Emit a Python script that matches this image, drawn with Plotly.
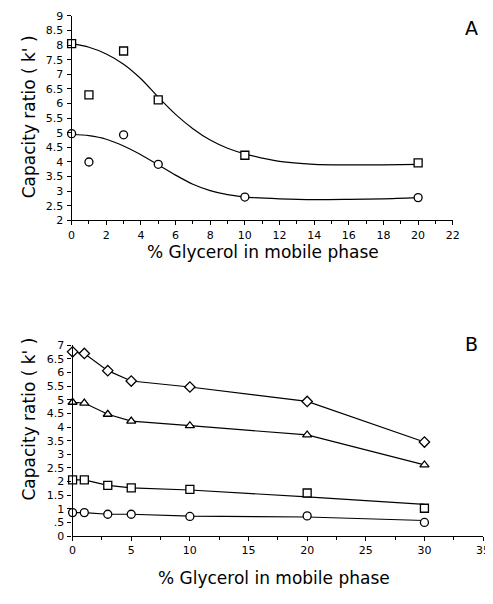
import plotly.graph_objects as go

# ---------- Panel A data ----------
a_x = [0, 1, 3, 5, 10, 20]
a_squares = [8.05, 6.3, 7.8, 6.13, 4.23, 3.97]
a_circles = [4.97, 4.0, 4.93, 3.92, 2.8, 2.78]
# fitted smooth curves
a_curve_x = [0, 1, 2, 3, 4, 5, 6, 7, 8, 9, 10, 12, 14, 16, 18, 20]
a_sq_curve = [8.05, 7.93, 7.7, 7.35, 6.85, 6.22, 5.63, 5.14, 4.75, 4.47, 4.28, 4.02, 3.92, 3.9, 3.9, 3.92]
a_ci_curve = [4.95, 4.9, 4.78, 4.55, 4.25, 3.9, 3.55, 3.24, 3.02, 2.88, 2.8, 2.74, 2.71, 2.72, 2.74, 2.78]
a_ytick_vals = [2, 2.5, 3, 3.5, 4, 4.5, 5, 5.5, 6, 6.5, 7, 7.5, 8, 8.5, 9]
a_ytick_text = ["2", "2.5", "3", "3.5", "4", "4.5", "5", "5.5", "6", "6.5", "7", "7.5", "8", "8.5", "9"]

# ---------- Panel B data ----------
b_x = [0, 1, 3, 5, 10, 20, 30]
b_diamonds = [6.76, 6.7, 6.07, 5.69, 5.47, 4.94, 3.45]
b_triangles = [4.91, 4.88, 4.47, 4.22, 4.05, 3.71, 2.61]
b_squares = [2.06, 2.06, 1.86, 1.77, 1.71, 1.58, 1.02]
b_circles = [0.86, 0.86, 0.8, 0.8, 0.72, 0.74, 0.5]
b_sq_line = [2.06, 2.06, 1.86, 1.77, 1.69, 1.44, 1.16]
b_ci_line = [0.86, 0.86, 0.8, 0.8, 0.73, 0.7, 0.57]
b_ytick_vals = [0, 0.5, 1, 1.5, 2, 2.5, 3, 3.5, 4, 4.5, 5, 5.5, 6, 6.5, 7]
b_ytick_text = ["0", ".5", "1", "1.5", "2", "2.5", "3", "3.5", "4", "4.5", "5", "5.5", "6", "6.5", "7"]

WIN_W, WIN_H = 493, 604
OFF = 8  # default page body margin
W, H = WIN_W - OFF, WIN_H - OFF
FONT = "DejaVu Sans"

fig = go.Figure()

line_style = dict(color="black", width=1.2)


def mk(symbol, size=8):
    return dict(symbol=symbol, size=size, color="white",
                line=dict(color="black", width=1.3))


# Panel A
fig.add_trace(go.Scatter(x=a_curve_x, y=a_sq_curve, mode="lines",
                         line=dict(shape="spline", smoothing=0.8, **line_style),
                         xaxis="x", yaxis="y", hoverinfo="skip"))
fig.add_trace(go.Scatter(x=a_curve_x, y=a_ci_curve, mode="lines",
                         line=dict(shape="spline", smoothing=0.8, **line_style),
                         xaxis="x", yaxis="y", hoverinfo="skip"))
fig.add_trace(go.Scatter(x=a_x, y=a_squares, mode="markers", marker=mk("square", 8),
                         xaxis="x", yaxis="y", cliponaxis=False))
fig.add_trace(go.Scatter(x=a_x, y=a_circles, mode="markers", marker=mk("circle", 8),
                         xaxis="x", yaxis="y", cliponaxis=False))

# Panel B
fig.add_trace(go.Scatter(x=b_x, y=b_diamonds, mode="lines+markers", line=line_style, marker=mk("diamond", 8),
                         xaxis="x2", yaxis="y2", cliponaxis=False))
fig.add_trace(go.Scatter(x=b_x, y=b_triangles, mode="lines+markers", line=line_style, marker=mk("triangle-up", 8),
                         xaxis="x2", yaxis="y2", cliponaxis=False))
fig.add_trace(go.Scatter(x=b_x, y=b_sq_line, mode="lines", line=line_style,
                         xaxis="x2", yaxis="y2", hoverinfo="skip"))
fig.add_trace(go.Scatter(x=b_x, y=b_ci_line, mode="lines", line=line_style,
                         xaxis="x2", yaxis="y2", hoverinfo="skip"))
fig.add_trace(go.Scatter(x=b_x, y=b_squares, mode="markers", marker=mk("square", 8),
                         xaxis="x2", yaxis="y2", cliponaxis=False))
fig.add_trace(go.Scatter(x=b_x, y=b_circles, mode="markers", marker=mk("circle", 8),
                         xaxis="x2", yaxis="y2", cliponaxis=False))


def px_x(p):
    return (p - OFF) / W


def px_y(p):
    return 1 - (p - OFF) / H


axis_common = dict(showline=True, linecolor="black", linewidth=1.2, ticks="outside", ticklen=4,
                   tickcolor="black", tickwidth=1, showgrid=False, zeroline=False,
                   tickfont=dict(family=FONT, size=11, color="black"))

fig.update_layout(
    width=W, height=H,
    margin=dict(l=0, r=0, t=0, b=0),
    paper_bgcolor="white", plot_bgcolor="white",
    showlegend=False,
    xaxis=dict(domain=[px_x(69), px_x(459)], range=[0, 22], anchor="y",
               tickvals=list(range(0, 23, 2)),
               minor=dict(dtick=1, ticks="outside", ticklen=3, tickcolor="black"),
               **axis_common),
    yaxis=dict(domain=[px_y(219), px_y(10)], range=[2, 9], anchor="x",
               tickvals=a_ytick_vals, ticktext=a_ytick_text, ticklabelstandoff=1,
               **axis_common),
    xaxis2=dict(domain=[px_x(70), px_x(490)], range=[0, 35], anchor="y2",
                tickvals=list(range(0, 36, 5)),
                minor=dict(dtick=2.5, ticks="outside", ticklen=3, tickcolor="black"),
                **axis_common),
    yaxis2=dict(domain=[px_y(541.7), px_y(346.7)], range=[0, 7], anchor="x2",
                tickvals=b_ytick_vals, ticktext=b_ytick_text, ticklabelstandoff=1,
                **axis_common),
)

title_font = dict(family=FONT, size=17, color="black")
ann = [
    dict(text="Capacity ratio ( k' )", x=px_x(25), y=px_y(113), textangle=-90, font=title_font),
    dict(text="% Glycerol in mobile phase", x=px_x(265), y=px_y(251), font=title_font),
    dict(text="Capacity ratio ( k' )", x=px_x(25), y=px_y(422), textangle=-90, font=title_font),
    dict(text="% Glycerol in mobile phase", x=px_x(276), y=px_y(585), font=title_font),
    dict(text="A", x=px_x(478), y=px_y(22), font=dict(family=FONT, size=19, color="black")),
    dict(text="B", x=px_x(478), y=px_y(345), font=dict(family=FONT, size=19, color="black")),
]
for a in ann:
    a.update(xref="paper", yref="paper", showarrow=False, xanchor="center", yanchor="middle")
fig.update_layout(annotations=ann)

fig.write_html("out.html")
